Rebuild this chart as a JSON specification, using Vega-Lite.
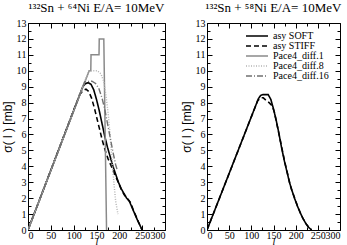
{
"$schema":"https://vega.github.io/schema/vega-lite/v6.json",
"padding":{"left":0,"top":1,"right":4,"bottom":0},
"background":"white",
"config":{"view":{"stroke":"black","strokeWidth":1},
 "font":"Liberation Serif, Times New Roman, serif",
 "title":{"font":"Liberation Serif, Times New Roman, serif","fontSize":13,"fontWeight":"normal","color":"black"},
 "axis":{"grid":false,"domain":false,"labelColor":"black","labelFont":"Liberation Serif, Times New Roman, serif","labelFontSize":10,"tickColor":"black","labelOverlap":false},
 "legend":{"labelFont":"Liberation Serif, Times New Roman, serif"}},
"datasets":{
"left":[
{"s":"asy SOFT","l":0,"v":0},{"s":"asy SOFT","l":120,"v":9.0},{"s":"asy SOFT","l":126,"v":9.2},{"s":"asy SOFT","l":132,"v":9.25},{"s":"asy SOFT","l":138,"v":9.15},{"s":"asy SOFT","l":144,"v":8.8},{"s":"asy SOFT","l":150,"v":8.2},{"s":"asy SOFT","l":156,"v":7.5},{"s":"asy SOFT","l":162,"v":6.7},{"s":"asy SOFT","l":168,"v":5.9},{"s":"asy SOFT","l":174,"v":5.2},{"s":"asy SOFT","l":180,"v":4.6},{"s":"asy SOFT","l":186,"v":4.0},{"s":"asy SOFT","l":192,"v":3.5},{"s":"asy SOFT","l":198,"v":3.0},{"s":"asy SOFT","l":204,"v":2.6},{"s":"asy SOFT","l":210,"v":2.3},{"s":"asy SOFT","l":216,"v":2.0},{"s":"asy SOFT","l":222,"v":1.8},{"s":"asy SOFT","l":228,"v":1.4},{"s":"asy SOFT","l":234,"v":1.0},{"s":"asy SOFT","l":240,"v":0.6},{"s":"asy SOFT","l":245,"v":0.3},{"s":"asy SOFT","l":250,"v":0},
{"s":"asy STIFF","l":0,"v":0},{"s":"asy STIFF","l":113,"v":8.5},{"s":"asy STIFF","l":120,"v":8.75},{"s":"asy STIFF","l":127,"v":8.85},{"s":"asy STIFF","l":133,"v":8.7},{"s":"asy STIFF","l":139,"v":8.3},{"s":"asy STIFF","l":145,"v":7.7},{"s":"asy STIFF","l":151,"v":7.0},{"s":"asy STIFF","l":157,"v":6.3},{"s":"asy STIFF","l":163,"v":5.6},{"s":"asy STIFF","l":169,"v":5.0},{"s":"asy STIFF","l":175,"v":4.5},{"s":"asy STIFF","l":181,"v":4.1},{"s":"asy STIFF","l":187,"v":3.7},{"s":"asy STIFF","l":193,"v":3.3},{"s":"asy STIFF","l":199,"v":2.9},{"s":"asy STIFF","l":205,"v":2.5},{"s":"asy STIFF","l":211,"v":2.2},{"s":"asy STIFF","l":217,"v":2.0},{"s":"asy STIFF","l":221,"v":1.85},{"s":"asy STIFF","l":225,"v":1.7},{"s":"asy STIFF","l":230,"v":1.3},{"s":"asy STIFF","l":236,"v":0.9},{"s":"asy STIFF","l":242,"v":0.5},{"s":"asy STIFF","l":250,"v":0},
{"s":"Pace4_diff.1","l":0,"v":0},{"s":"Pace4_diff.1","l":134,"v":10},{"s":"Pace4_diff.1","l":137.5,"v":10},{"s":"Pace4_diff.1","l":138,"v":11},{"s":"Pace4_diff.1","l":155.5,"v":11},{"s":"Pace4_diff.1","l":156,"v":12},{"s":"Pace4_diff.1","l":166,"v":12},{"s":"Pace4_diff.1","l":172,"v":0},
{"s":"Pace4_diff.8","l":0,"v":0},{"s":"Pace4_diff.8","l":133,"v":10},{"s":"Pace4_diff.8","l":152,"v":10},{"s":"Pace4_diff.8","l":160,"v":9.8},{"s":"Pace4_diff.8","l":166,"v":9.3},{"s":"Pace4_diff.8","l":171,"v":8.4},{"s":"Pace4_diff.8","l":176,"v":7.2},{"s":"Pace4_diff.8","l":180,"v":5.9},{"s":"Pace4_diff.8","l":184,"v":4.4},{"s":"Pace4_diff.8","l":188,"v":3.0},{"s":"Pace4_diff.8","l":192,"v":1.8},{"s":"Pace4_diff.8","l":197,"v":1.0},
{"s":"Pace4_diff.16","l":0,"v":0},{"s":"Pace4_diff.16","l":124,"v":9.3},{"s":"Pace4_diff.16","l":140,"v":9.35},{"s":"Pace4_diff.16","l":148,"v":9.2},{"s":"Pace4_diff.16","l":155,"v":8.9},{"s":"Pace4_diff.16","l":162,"v":8.3},{"s":"Pace4_diff.16","l":168,"v":7.6},{"s":"Pace4_diff.16","l":174,"v":6.7},{"s":"Pace4_diff.16","l":180,"v":5.8},{"s":"Pace4_diff.16","l":186,"v":4.9},{"s":"Pace4_diff.16","l":192,"v":4.1},{"s":"Pace4_diff.16","l":196,"v":3.7}
],
"right":[
{"s":"asy SOFT","l":0,"v":0},{"s":"asy SOFT","l":116,"v":8.25},{"s":"asy SOFT","l":121,"v":8.45},{"s":"asy SOFT","l":126,"v":8.5},{"s":"asy SOFT","l":138,"v":8.5},{"s":"asy SOFT","l":144,"v":8.2},{"s":"asy SOFT","l":150,"v":7.6},{"s":"asy SOFT","l":156,"v":6.9},{"s":"asy SOFT","l":162,"v":6.1},{"s":"asy SOFT","l":168,"v":5.2},{"s":"asy SOFT","l":174,"v":4.4},{"s":"asy SOFT","l":180,"v":3.7},{"s":"asy SOFT","l":186,"v":3.0},{"s":"asy SOFT","l":192,"v":2.45},{"s":"asy SOFT","l":198,"v":1.95},{"s":"asy SOFT","l":204,"v":1.5},{"s":"asy SOFT","l":210,"v":1.1},{"s":"asy SOFT","l":216,"v":0.75},{"s":"asy SOFT","l":222,"v":0.45},{"s":"asy SOFT","l":228,"v":0.2},{"s":"asy SOFT","l":236,"v":0},
{"s":"asy STIFF","l":0,"v":0},{"s":"asy STIFF","l":114,"v":8.1},{"s":"asy STIFF","l":121,"v":8.3},{"s":"asy STIFF","l":127,"v":8.3},{"s":"asy STIFF","l":133,"v":8.15},{"s":"asy STIFF","l":140,"v":8.0},{"s":"asy STIFF","l":147,"v":7.8},{"s":"asy STIFF","l":152,"v":7.4},{"s":"asy STIFF","l":158,"v":6.6},{"s":"asy STIFF","l":164,"v":5.8},{"s":"asy STIFF","l":170,"v":5.0},{"s":"asy STIFF","l":176,"v":4.2},{"s":"asy STIFF","l":182,"v":3.5},{"s":"asy STIFF","l":187,"v":2.9},{"s":"asy STIFF","l":190,"v":2.6},{"s":"asy STIFF","l":194,"v":2.3},{"s":"asy STIFF","l":199,"v":1.9},{"s":"asy STIFF","l":205,"v":1.45},{"s":"asy STIFF","l":211,"v":1.05},{"s":"asy STIFF","l":217,"v":0.7},{"s":"asy STIFF","l":223,"v":0.4},{"s":"asy STIFF","l":229,"v":0.2},{"s":"asy STIFF","l":236,"v":0}
]},
"resolve":{"scale":{"color":"independent","strokeDash":"independent","strokeWidth":"independent"}},
"spacing":12,
"hconcat":[
{"width":137,"height":207,
 "title":{"text":"¹³²Sn + ⁶⁴Ni  E/A= 10MeV","frame":"group","offset":3,"font":"Liberation Serif, Times New Roman, serif","fontSize":13,"fontWeight":"normal"},
 "data":{"name":"left"},
 "resolve":{"axis":{"x":"independent","y":"independent"}},
 "layer":[
  {"mark":{"type":"line","clip":true},
   "encoding":{
    "x":{"field":"l","type":"quantitative","scale":{"domain":[0,300],"nice":false},"axis":{"orient":"bottom","values":[0,50,100,150,200,250,300],"ticks":false,"labelPadding":0,"labelOverlap":false,"labelFont":"Liberation Serif, Times New Roman, serif","labelFontSize":10,"title":"l","titleFont":"Liberation Serif, Times New Roman, serif","titleFontStyle":"italic","titleFontWeight":"normal","titleFontSize":10,"titleBaseline":"alphabetic","titleY":14}},
    "y":{"field":"v","type":"quantitative","scale":{"domain":[0,13],"nice":false},"axis":{"orient":"left","values":[0,1,2,3,4,5,6,7,8,9,10,11,12,13],"ticks":false,"labelPadding":2,"labelOverlap":false,"labelFont":"Liberation Serif, Times New Roman, serif","labelFontSize":10,"title":"σ( l )  [mb]","titleFont":"Liberation Sans, Arial, sans-serif","titleFontWeight":"normal","titleFontSize":12,"titlePadding":2}},
    "color":{"field":"s","type":"nominal","scale":{"domain":["asy SOFT","asy STIFF","Pace4_diff.1","Pace4_diff.8","Pace4_diff.16"],"range":["#000000","#000000","#8a8a8a","#b4b4b4","#707070"]},"legend":null},
    "strokeDash":{"field":"s","type":"nominal","scale":{"domain":["asy SOFT","asy STIFF","Pace4_diff.1","Pace4_diff.8","Pace4_diff.16"],"range":[[1,0],[5,3],[1,0],[1,1.5],[6,2,1,2]]},"legend":null},
    "strokeWidth":{"field":"s","type":"ordinal","scale":{"domain":["asy SOFT","asy STIFF","Pace4_diff.1","Pace4_diff.8","Pace4_diff.16"],"range":[1.6,1.4,1,1,1]},"legend":null}}},
  {"mark":{"type":"line","strokeOpacity":0},
   "encoding":{
    "x":{"field":"l","type":"quantitative","scale":{"domain":[0,300],"nice":false},"axis":{"orient":"bottom","values":[0,50,100,150,200,250,300],"labels":false,"tickSize":-5,"title":null}},
    "y":{"field":"v","type":"quantitative","scale":{"domain":[0,13],"nice":false},"axis":{"orient":"left","values":[0,1,2,3,4,5,6,7,8,9,10,11,12,13],"labels":false,"tickSize":-5,"title":null}}}},
  {"mark":{"type":"line","strokeOpacity":0},
   "encoding":{
    "x":{"field":"l","type":"quantitative","scale":{"domain":[0,300],"nice":false},"axis":{"orient":"bottom","values":[25,75,125,175,225,275],"labels":false,"tickSize":-3,"title":null}},
    "y":{"field":"v","type":"quantitative","scale":{"domain":[0,13],"nice":false},"axis":{"orient":"left","values":[0.5,1.5,2.5,3.5,4.5,5.5,6.5,7.5,8.5,9.5,10.5,11.5,12.5],"labels":false,"tickSize":-3,"title":null}}}},
  {"mark":{"type":"line","strokeOpacity":0},
   "encoding":{
    "x":{"field":"l","type":"quantitative","scale":{"domain":[0,300],"nice":false},"axis":{"orient":"top","values":[0,50,100,150,200,250,300],"labels":false,"tickSize":-5,"title":null}},
    "y":{"field":"v","type":"quantitative","scale":{"domain":[0,13],"nice":false},"axis":{"orient":"right","values":[0,1,2,3,4,5,6,7,8,9,10,11,12,13],"labels":false,"tickSize":-5,"title":null}}}},
  {"mark":{"type":"line","strokeOpacity":0},
   "encoding":{
    "x":{"field":"l","type":"quantitative","scale":{"domain":[0,300],"nice":false},"axis":{"orient":"top","values":[25,75,125,175,225,275],"labels":false,"tickSize":-3,"title":null}},
    "y":{"field":"v","type":"quantitative","scale":{"domain":[0,13],"nice":false},"axis":{"orient":"right","values":[0.5,1.5,2.5,3.5,4.5,5.5,6.5,7.5,8.5,9.5,10.5,11.5,12.5],"labels":false,"tickSize":-3,"title":null}}}}
 ]},
{"width":133,"height":207,
 "title":{"text":"¹³²Sn + ⁵⁸Ni  E/A= 10MeV","frame":"group","offset":3,"font":"Liberation Serif, Times New Roman, serif","fontSize":13,"fontWeight":"normal"},
 "data":{"name":"right"},
 "resolve":{"axis":{"x":"independent","y":"independent"}},
 "layer":[
  {"mark":{"type":"line","clip":true},
   "encoding":{
    "x":{"field":"l","type":"quantitative","scale":{"domain":[0,300],"nice":false},"axis":{"orient":"bottom","values":[0,50,100,150,200,250,300],"ticks":false,"labelPadding":0,"labelOverlap":false,"labelFont":"Liberation Serif, Times New Roman, serif","labelFontSize":10,"title":"l","titleFont":"Liberation Serif, Times New Roman, serif","titleFontStyle":"italic","titleFontWeight":"normal","titleFontSize":10,"titleBaseline":"alphabetic","titleY":14}},
    "y":{"field":"v","type":"quantitative","scale":{"domain":[0,13],"nice":false},"axis":{"orient":"left","values":[0,1,2,3,4,5,6,7,8,9,10,11,12,13],"ticks":false,"labelPadding":2,"labelOverlap":false,"labelFont":"Liberation Serif, Times New Roman, serif","labelFontSize":10,"title":"σ( l )  [mb]","titleFont":"Liberation Sans, Arial, sans-serif","titleFontWeight":"normal","titleFontSize":12,"titlePadding":2}},
    "color":{"field":"s","type":"nominal","scale":{"domain":["asy SOFT","asy STIFF","Pace4_diff.1","Pace4_diff.8","Pace4_diff.16"],"range":["#000000","#000000","#8a8a8a","#b4b4b4","#707070"]},"legend":{"orient":"none","legendX":38,"legendY":8,"title":null,"labelFont":"Liberation Serif, Times New Roman, serif","labelFontSize":10,"labelColor":"black","symbolSize":484,"symbolType":"stroke","clipHeight":10,"rowPadding":0,"labelOffset":4}},
    "strokeDash":{"field":"s","type":"nominal","scale":{"domain":["asy SOFT","asy STIFF","Pace4_diff.1","Pace4_diff.8","Pace4_diff.16"],"range":[[1,0],[5,3],[1,0],[1,1.5],[6,2,1,2]]},"legend":{"orient":"none","legendX":38,"legendY":8,"title":null,"labelFont":"Liberation Serif, Times New Roman, serif","labelFontSize":10,"labelColor":"black","symbolSize":484,"symbolType":"stroke","clipHeight":10,"rowPadding":0,"labelOffset":4}},
    "strokeWidth":{"field":"s","type":"ordinal","scale":{"domain":["asy SOFT","asy STIFF","Pace4_diff.1","Pace4_diff.8","Pace4_diff.16"],"range":[1.6,1.4,1,1,1]},"legend":{"orient":"none","legendX":38,"legendY":8,"title":null,"labelFont":"Liberation Serif, Times New Roman, serif","labelFontSize":10,"labelColor":"black","symbolSize":484,"symbolType":"stroke","clipHeight":10,"rowPadding":0,"labelOffset":4}}}},
  {"mark":{"type":"line","strokeOpacity":0},
   "encoding":{
    "x":{"field":"l","type":"quantitative","scale":{"domain":[0,300],"nice":false},"axis":{"orient":"bottom","values":[0,50,100,150,200,250,300],"labels":false,"tickSize":-5,"title":null}},
    "y":{"field":"v","type":"quantitative","scale":{"domain":[0,13],"nice":false},"axis":{"orient":"left","values":[0,1,2,3,4,5,6,7,8,9,10,11,12,13],"labels":false,"tickSize":-5,"title":null}}}},
  {"mark":{"type":"line","strokeOpacity":0},
   "encoding":{
    "x":{"field":"l","type":"quantitative","scale":{"domain":[0,300],"nice":false},"axis":{"orient":"bottom","values":[25,75,125,175,225,275],"labels":false,"tickSize":-3,"title":null}},
    "y":{"field":"v","type":"quantitative","scale":{"domain":[0,13],"nice":false},"axis":{"orient":"left","values":[0.5,1.5,2.5,3.5,4.5,5.5,6.5,7.5,8.5,9.5,10.5,11.5,12.5],"labels":false,"tickSize":-3,"title":null}}}},
  {"mark":{"type":"line","strokeOpacity":0},
   "encoding":{
    "x":{"field":"l","type":"quantitative","scale":{"domain":[0,300],"nice":false},"axis":{"orient":"top","values":[0,50,100,150,200,250,300],"labels":false,"tickSize":-5,"title":null}},
    "y":{"field":"v","type":"quantitative","scale":{"domain":[0,13],"nice":false},"axis":{"orient":"right","values":[0,1,2,3,4,5,6,7,8,9,10,11,12,13],"labels":false,"tickSize":-5,"title":null}}}},
  {"mark":{"type":"line","strokeOpacity":0},
   "encoding":{
    "x":{"field":"l","type":"quantitative","scale":{"domain":[0,300],"nice":false},"axis":{"orient":"top","values":[25,75,125,175,225,275],"labels":false,"tickSize":-3,"title":null}},
    "y":{"field":"v","type":"quantitative","scale":{"domain":[0,13],"nice":false},"axis":{"orient":"right","values":[0.5,1.5,2.5,3.5,4.5,5.5,6.5,7.5,8.5,9.5,10.5,11.5,12.5],"labels":false,"tickSize":-3,"title":null}}}}
 ]}
]}
